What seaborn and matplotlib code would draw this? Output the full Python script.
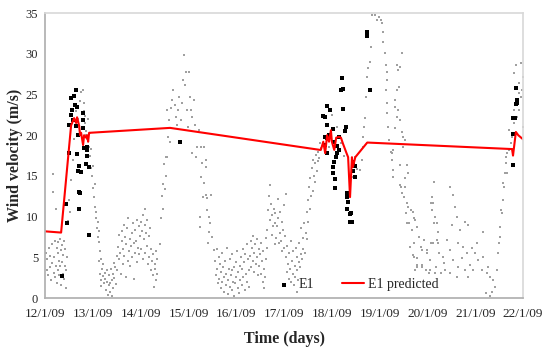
import pandas as pd
import matplotlib
matplotlib.use("Agg")
import matplotlib.pyplot as plt
import seaborn as sns

sns.set_theme(style="white")
plt.rcParams['font.family'] = ['Liberation Serif', 'DejaVu Serif']

start = pd.Timestamp('2009-01-12')
tick_labels = ['12/1/09', '13/1/09', '14/1/09', '15/1/09', '16/1/09', '17/1/09',
               '18/1/09', '19/1/09', '20/1/09', '21/1/09', '22/1/09']

# measured wind velocity (grey background), (days since 12/1/09, m/s)
grey_pts = [
    # 12/1 night
    (0.02, 5.6), (0.04, 3.4), (0.05, 4.8), (0.07, 2.9), (0.08, 6.1), (0.10, 3.8), (0.11, 5.2),
    (0.12, 2.2), (0.14, 4.3), (0.15, 6.6), (0.16, 13.0), (0.17, 15.3), (0.18, 3.1), (0.19, 5.0),
    (0.20, 7.0), (0.21, 2.6), (0.22, 11.0), (0.23, 4.0), (0.24, 6.2), (0.25, 1.8), (0.26, 3.5),
    (0.27, 5.6), (0.28, 6.9), (0.29, 2.9), (0.30, 4.6), (0.31, 7.2), (0.32, 3.9), (0.33, 5.9),
    (0.34, 1.6), (0.35, 4.4), (0.36, 6.5), (0.37, 3.0), (0.38, 5.3), (0.39, 2.4), (0.40, 7.0),
    (0.41, 4.0), (0.42, 6.0), (0.43, 3.4), (0.44, 1.2), (0.45, 5.0),
    # first gust
    (0.47, 9.5), (0.50, 12.0), (0.52, 10.6), (0.55, 14.5), (0.58, 17.0), (0.60, 19.5), (0.62, 21.0),
    (0.65, 23.0), (0.68, 22.0), (0.72, 24.2), (0.76, 25.3), (0.80, 25.5), (0.81, 24.0), (0.82, 23.0),
    (0.83, 22.4), (0.84, 21.5), (0.85, 20.5), (0.86, 20.0), (0.88, 19.5), (0.90, 22.0), (0.92, 18.6),
    (0.93, 17.5), (0.95, 16.0), (0.96, 18.3), (0.98, 15.0), (1.00, 16.2), (1.01, 13.5), (1.03, 12.4),
    (1.04, 14.0), (1.05, 11.2), (1.06, 9.8), (1.07, 10.6), (1.08, 8.6), (1.10, 9.4), (1.11, 7.5),
    (1.12, 8.2), (1.13, 6.9), (1.15, 5.8),
    # 13/1 calm
    (1.12, 4.5), (1.14, 3.0), (1.16, 4.8), (1.17, 2.2), (1.18, 1.5), (1.20, 3.6), (1.21, 2.7),
    (1.22, 4.2), (1.24, 1.8), (1.25, 3.1), (1.26, 2.4), (1.28, 1.0), (1.29, 3.4), (1.30, 2.0),
    (1.32, 0.4), (1.33, 1.6), (1.34, 2.9), (1.35, 0.8), (1.36, 1.9), (1.38, 3.6), (1.39, 0.3),
    (1.40, 2.2), (1.42, 1.2), (1.43, 3.0), (1.44, 4.3), (1.45, 2.5), (1.47, 3.8), (1.48, 1.7),
    (1.50, 5.2),
    # 14/1
    (1.50, 3.5), (1.52, 6.3), (1.54, 4.8), (1.55, 7.8), (1.57, 5.5), (1.58, 3.0), (1.60, 7.0),
    (1.61, 8.2), (1.62, 4.2), (1.64, 6.0), (1.65, 9.0), (1.66, 5.2), (1.68, 7.5), (1.69, 2.6),
    (1.70, 6.6), (1.72, 8.6), (1.73, 4.6), (1.74, 9.8), (1.76, 5.8), (1.77, 7.2), (1.78, 3.9),
    (1.80, 6.4), (1.81, 8.0), (1.82, 5.0), (1.84, 9.2), (1.85, 6.8), (1.86, 2.4), (1.88, 5.6),
    (1.89, 8.4), (1.90, 7.0), (1.92, 4.4), (1.93, 9.6), (1.94, 6.2), (1.96, 8.8), (1.97, 5.4),
    (1.98, 7.6), (2.00, 9.4), (2.01, 6.0), (2.02, 8.2), (2.04, 4.8), (2.05, 10.2), (2.06, 7.2),
    (2.08, 9.0), (2.09, 5.6), (2.10, 11.0), (2.12, 8.0), (2.13, 6.4), (2.14, 9.6), (2.16, 4.2),
    (2.17, 7.6), (2.18, 5.0), (2.20, 8.6), (2.21, 3.4), (2.22, 6.0), (2.24, 4.6), (2.25, 2.8),
    (2.26, 5.4), (2.28, 1.4), (2.29, 3.6), (2.30, 4.2), (2.31, 2.2), (2.32, 5.8), (2.34, 3.0),
    (2.35, 4.8),
    # 15/1 gust
    (2.40, 6.6), (2.42, 9.8), (2.44, 12.5), (2.46, 14.0), (2.47, 11.0), (2.49, 16.5), (2.50, 13.4),
    (2.52, 17.3), (2.53, 15.0), (2.55, 23.1), (2.59, 21.9), (2.64, 23.3), (2.66, 24.3), (2.68, 25.5),
    (2.72, 23.7), (2.74, 22.2), (2.76, 21.3), (2.78, 23.1), (2.80, 24.7), (2.85, 21.9), (2.87, 24.0),
    (2.89, 26.8), (2.91, 29.9), (2.93, 26.2), (2.95, 27.8), (2.97, 23.1), (2.98, 21.0), (3.01, 27.8),
    (3.03, 24.7), (3.05, 23.1), (3.08, 22.2), (3.12, 24.3), (3.14, 21.3), (3.08, 17.8), (3.16, 17.3),
    (3.18, 18.6), (3.22, 20.6), (3.26, 18.6), (3.28, 16.6), (3.26, 14.9), (3.33, 14.1), (3.31, 12.4),
    (3.24, 10.0), (3.24, 8.7), (2.57, 19.8), (2.55, 17.3), (2.62, 19.2),
    (3.33, 18.6), (3.37, 17.0), (3.37, 16.1), (3.37, 12.7), (3.39, 12.3), (3.47, 12.7), (3.39, 10.8),
    (3.43, 10.0), (3.45, 9.2), (3.43, 8.1), (3.41, 6.8), (3.49, 7.5), (3.54, 5.9),
    # 16/1 calm
    (3.56, 4.6), (3.58, 2.8), (3.59, 6.0), (3.60, 3.6), (3.62, 1.8), (3.63, 5.0), (3.64, 2.4),
    (3.66, 4.2), (3.67, 1.2), (3.68, 3.2), (3.70, 5.6), (3.71, 2.0), (3.72, 3.8), (3.74, 0.8),
    (3.75, 2.6), (3.76, 4.6), (3.78, 1.6), (3.79, 3.0), (3.80, 6.2), (3.82, 2.2), (3.83, 0.5),
    (3.84, 3.6), (3.86, 1.4), (3.87, 4.8), (3.88, 2.8), (3.90, 1.0), (3.91, 3.4), (3.92, 5.4),
    (3.94, 2.0), (3.95, 0.3), (3.96, 3.8), (3.98, 1.8), (3.99, 4.4), (4.00, 2.6), (4.02, 5.8),
    (4.03, 1.2), (4.04, 3.2), (4.06, 0.6), (4.07, 4.0), (4.08, 2.2), (4.10, 5.0), (4.11, 1.6),
    (4.12, 3.6), (4.14, 6.0), (4.15, 2.6), (4.16, 4.4), (4.18, 1.0), (4.19, 5.4), (4.20, 3.0),
    (4.22, 6.6), (4.23, 2.0), (4.24, 4.8), (4.26, 3.4), (4.27, 1.4),
    (4.28, 5.2), (4.30, 7.0), (4.31, 3.8), (4.33, 6.2), (4.34, 4.6), (4.36, 7.6), (4.37, 5.6),
    (4.38, 3.2), (4.40, 6.6), (4.41, 4.2), (4.43, 7.2), (4.44, 5.0), (4.45, 2.8), (4.47, 6.0),
    (4.48, 4.0), (4.50, 5.4), (4.51, 3.0), (4.52, 6.8), (4.54, 4.6), (4.55, 2.0), (4.56, 5.8),
    (4.58, 1.2), (4.59, 3.6), (4.60, 2.6), (4.62, 4.8), (4.63, 7.4), (4.64, 6.2),
    # 17/1
    (4.65, 8.4), (4.67, 10.8), (4.68, 12.6), (4.70, 13.9), (4.71, 9.6), (4.72, 11.6), (4.74, 7.8),
    (4.75, 10.2), (4.77, 8.8), (4.78, 11.0), (4.80, 6.6), (4.81, 9.2), (4.82, 10.4), (4.84, 7.4),
    (4.85, 8.8), (4.87, 12.2), (4.88, 9.8), (4.89, 6.8), (4.91, 8.0), (4.92, 10.6), (4.94, 7.0),
    (4.95, 9.4), (4.96, 5.8), (4.98, 8.4), (4.99, 11.4), (5.00, 6.2), (5.02, 7.6), (5.03, 12.8),
    (5.04, 5.0), (5.06, 3.2), (5.07, 6.4), (5.08, 4.2), (5.10, 2.4), (5.11, 5.6), (5.12, 3.6),
    (5.14, 7.0), (5.15, 2.0), (5.16, 4.6), (5.18, 3.0), (5.19, 5.8), (5.20, 1.6), (5.22, 4.0),
    (5.23, 2.6), (5.24, 6.2), (5.26, 3.4), (5.27, 0.8), (5.28, 5.0), (5.30, 2.2), (5.31, 4.4),
    (5.32, 6.8), (5.34, 3.8), (5.35, 5.4), (5.36, 8.6), (5.38, 4.8), (5.39, 7.4), (5.40, 6.0),
    (5.42, 9.2), (5.43, 5.6),
    (5.45, 8.0), (5.47, 10.6), (5.48, 7.2), (5.50, 12.0), (5.51, 9.4), (5.52, 13.6), (5.54, 11.0),
    (5.55, 14.8), (5.57, 12.6), (5.58, 16.0), (5.60, 13.2), (5.61, 17.0), (5.62, 15.0), (5.64, 16.6),
    (5.65, 14.2), (5.67, 17.6), (5.68, 15.6), (5.70, 18.0), (5.71, 16.8), (5.73, 17.2), (5.75, 19.0),
    (5.77, 18.4), (5.95, 18.5), (6.00, 22.5), (6.10, 21.0), (6.20, 19.0), (6.26, 17.5),
    # 18/1 - 19/1 peak
    (6.44, 14.9), (6.49, 17.3), (6.53, 15.8), (6.59, 15.7), (6.63, 17.0), (6.65, 18.6), (6.65, 19.8),
    (6.67, 21.0), (6.69, 22.1), (6.72, 24.7), (6.74, 27.2), (6.76, 28.3), (6.80, 29.0), (6.82, 30.8),
    (6.84, 34.8), (6.90, 34.8), (6.95, 34.2), (6.99, 34.5), (7.03, 34.2), (7.05, 33.8), (7.07, 32.7),
    (7.07, 31.5), (7.11, 30.1), (7.13, 28.6), (7.15, 27.8), (7.15, 26.8), (7.13, 25.6), (7.15, 24.0),
    (7.15, 22.7), (7.18, 21.0), (7.20, 19.4), (7.24, 17.9), (7.26, 17.0), (7.28, 15.7), (7.28, 14.9),
    (7.36, 28.6), (7.38, 28.0), (7.43, 28.4), (7.47, 30.1), (7.36, 25.6), (7.41, 25.9), (7.32, 24.3),
    (7.32, 23.5), (7.38, 23.1), (7.36, 22.2), (7.43, 21.9), (7.32, 20.9), (7.47, 20.4), (7.49, 19.8),
    (7.53, 19.4), (7.49, 18.6), (7.28, 18.2), (7.26, 17.8), (7.43, 16.3), (7.57, 16.3), (7.59, 15.4),
    (7.53, 14.7),
    # 20/1
    (7.45, 13.6), (7.51, 12.4), (7.57, 11.7), (7.55, 10.4), (7.66, 10.8), (7.72, 9.8), (7.62, 9.2),
    (7.68, 8.4), (7.78, 8.7), (7.82, 7.5), (7.72, 6.8), (7.87, 6.3), (7.93, 7.1), (7.99, 5.9),
    (8.08, 6.8), (8.14, 14.3), (8.08, 11.7), (8.10, 10.8), (8.14, 9.2), (8.20, 7.1), (8.24, 5.5),
    (7.78, 4.9), (7.89, 3.8), (8.03, 3.1), (8.18, 3.8), (8.28, 3.1), (8.35, 4.3), (7.72, 5.0),
    (7.78, 4.1), (7.97, 3.4), (7.43, 13.9), (7.53, 13.6), (7.47, 12.9), (7.59, 11.2), (7.57, 9.2),
    (7.70, 10.6), (7.74, 9.6), (7.68, 8.4), (7.64, 6.3), (7.70, 5.3), (7.78, 3.8), (7.74, 3.4),
    (7.89, 4.1), (7.99, 5.5), (7.89, 5.9), (8.05, 4.7), (8.05, 3.4), (8.12, 6.8), (8.10, 12.4),
    (8.12, 11.7), (8.16, 10.0), (8.20, 9.2), (8.22, 8.1), (8.22, 6.8), (8.16, 3.1),
    # 21/1
    (8.47, 13.6), (8.54, 12.7), (8.58, 11.2), (8.62, 10.0), (8.51, 9.0), (8.68, 8.4), (8.79, 9.3),
    (8.85, 9.0), (8.64, 6.8), (8.74, 6.3), (8.83, 5.5), (8.47, 5.9), (8.41, 7.1), (8.33, 5.0),
    (8.54, 4.7), (8.64, 3.8), (8.79, 3.4), (8.89, 4.1), (9.00, 5.5), (9.04, 6.8), (9.16, 8.1),
    (9.06, 4.7), (9.14, 3.4), (9.25, 3.1), (9.31, 2.6), (9.37, 2.2), (9.41, 1.4), (9.35, 0.7),
    (8.47, 3.1), (8.37, 3.4), (8.62, 2.6), (8.85, 2.6), (8.93, 6.1), (8.95, 3.4), (8.72, 4.9),
    (9.16, 5.0), (9.27, 3.8), (9.46, 3.4), (9.48, 5.5), (9.52, 7.5), (9.56, 10.4), (9.58, 12.0),
    (9.58, 14.1), (9.67, 15.4), (9.31, 0.3), (9.23, 0.6),
    # 22/1 gust
    (9.50, 6.8), (9.52, 8.7), (9.54, 10.8), (9.58, 12.0), (9.60, 13.6), (9.62, 15.4), (9.64, 16.6),
    (9.67, 17.8), (9.71, 18.2), (9.64, 17.3), (9.75, 19.0), (9.77, 19.8), (9.71, 20.6), (9.81, 21.5),
    (9.87, 22.2), (9.92, 23.1), (9.96, 24.7), (9.98, 25.6), (9.92, 26.4), (9.99, 27.2), (9.96, 28.9),
    (9.85, 28.6), (9.81, 27.6), (9.92, 25.2), (9.81, 23.1), (9.99, 21.0),
]
grey_days = [p[0] for p in grey_pts]
grey_ws = [p[1] for p in grey_pts]

# E1 measured
e1_days = [0.649, 0.607, 0.544, 0.628, 0.669, 0.565, 0.795, 0.544, 0.586, 0.795, 0.502, 0.649,
           0.795, 0.690, 0.879, 0.816, 0.879, 0.502, 0.669, 0.879, 0.858, 0.711, 0.921, 0.690,
           0.753, 0.711, 0.732, 0.711, 0.440, 0.460, 0.921, 0.356, 2.824,
           6.21, 6.19, 6.23, 5.90, 5.96, 6.23, 5.82, 5.86, 5.90, 6.30, 6.03, 6.28, 5.86, 5.90,
           5.94, 6.15, 5.86, 6.05, 6.11, 5.90, 6.11, 6.09, 6.15, 6.05, 6.03, 6.03, 6.07, 6.07,
           6.32, 6.32, 6.34, 6.32, 6.38, 6.40, 6.38, 6.42, 6.44, 6.49, 6.74, 6.74, 6.80, 6.49, 6.44,
           9.85, 9.87, 9.87, 9.85, 9.79, 9.83, 9.81, 9.79, 9.79]
e1_ws = [25.5, 24.8, 24.6, 23.7, 23.5, 23.1, 22.7, 22.5, 21.9, 21.9, 21.2, 21.1,
         20.9, 20.0, 18.6, 18.4, 18.2, 17.8, 17.7, 17.4, 16.5, 16.2, 16.1, 15.6,
         15.5, 13.0, 12.9, 10.9, 11.5, 9.2, 7.7, 2.7, 19.2,
         27.0, 25.6, 25.7, 23.6, 23.1, 23.2, 22.4, 22.2, 21.3, 21.0, 20.8, 20.5, 19.8, 19.7,
         20.0, 19.8, 18.8, 19.2, 18.7, 17.8, 17.8, 17.3, 18.2, 16.7, 16.1, 15.4, 14.6, 13.5,
         12.9, 12.4, 11.8, 10.9, 10.3, 10.4, 9.3, 9.3, 16.7, 14.9, 32.7, 32.2, 25.6, 16.2, 15.6,
         25.8, 24.3, 24.0, 23.8, 22.1, 22.1, 20.1, 20.1, 16.3]

# E1 predicted
pred_days = [0.0, 0.335, 0.544, 0.607, 0.649, 0.669, 0.711, 0.732, 0.753, 0.795, 0.816, 0.858,
             0.879, 0.900, 0.921, 0.940, 2.615, 5.75, 5.77, 5.82, 5.86, 5.90, 5.94, 5.98, 6.00,
             6.05, 6.09, 6.15, 6.19, 6.23, 6.30, 6.34, 6.38, 6.42, 6.44, 6.49, 6.74, 9.77, 9.79,
             9.85, 9.90, 10.0]
pred_ws = [8.2, 8.05, 21.2, 22.1, 21.5, 22.2, 21.2, 20.0, 20.3, 18.8, 20.0, 19.7,
           20.0, 19.2, 20.3, 20.3, 20.9, 18.2, 18.2, 19.2, 17.8, 20.0, 19.2, 20.6, 19.2,
           18.2, 19.7, 19.8, 19.7, 19.0, 17.9, 17.3, 12.4, 17.3, 16.1, 17.3, 19.1, 18.3, 17.5,
           20.4, 20.0, 19.5]

grey = pd.DataFrame({'time': start + pd.to_timedelta(grey_days, unit='D'), 'ws': grey_ws})
e1 = pd.DataFrame({'time': start + pd.to_timedelta(e1_days, unit='D'), 'ws': e1_ws})
pred = pd.DataFrame({'time': start + pd.to_timedelta(pred_days, unit='D'), 'ws': pred_ws})

fig = plt.figure(figsize=(5.5, 3.52), dpi=100)
ax = fig.add_axes([0.082, 0.153, 0.869, 0.810])

sns.scatterplot(data=grey, x='time', y='ws', ax=ax, color='#a0a0a0', marker='s',
                s=4, linewidth=0, legend=False)
sns.scatterplot(data=e1, x='time', y='ws', ax=ax, color='black', marker='s',
                s=7, linewidth=0, label='E1')
sns.lineplot(data=pred, x='time', y='ws', ax=ax, color='#ff0000', linewidth=1.5,
             sort=False, estimator=None, label='E1 predicted')

ticks = [start + pd.Timedelta(days=i) for i in range(len(tick_labels))]
ax.set_xlim(ticks[0], ticks[-1])
ax.set_xticks(ticks)
ax.set_xticklabels(tick_labels, fontsize=9.5)
ax.set_ylim(0, 35)
ax.set_yticks(range(0, 36, 5))
ax.tick_params(axis='y', labelsize=9, pad=5, length=0)
ax.tick_params(axis='x', pad=7, length=0)

ax.set_xlabel('Time (days)', fontsize=11.5, fontweight='bold', labelpad=8)
ax.set_ylabel('Wind velocity (m/s)', fontsize=11.5, fontweight='bold', labelpad=2)

for side in ['left', 'bottom']:
    ax.spines[side].set_color('#b0b0b0')
for side in ['top', 'right']:
    ax.spines[side].set_color('#d9d9d9')

ax.legend(loc='lower center', bbox_to_anchor=(0.65, -0.02), ncol=2, frameon=False,
          fontsize=10, handlelength=1.6, columnspacing=2.0, handletextpad=0.3,
          markerscale=1.0)

plt.savefig('out.png', dpi=100)
plt.close()
